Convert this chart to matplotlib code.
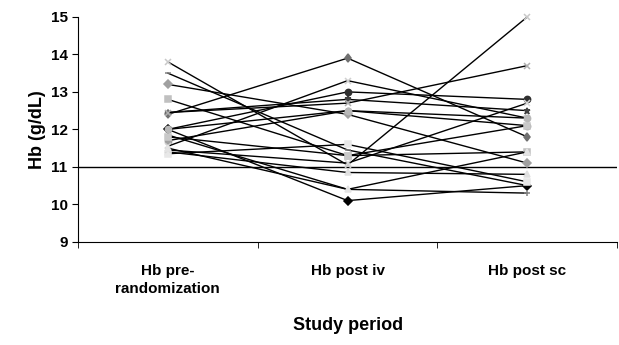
import numpy as np
import matplotlib.pyplot as plt

plt.rcParams['font.family'] = ['Liberation Sans', 'DejaVu Sans']
plt.rcParams['font.weight'] = 'bold'

periods = ["Hb pre-\nrandomization", "Hb post iv", "Hb post sc"]

# Hb (g/dL) per patient: pre-randomization, post iv, post sc
pt01 = [13.8, 11.05, 15.0]
pt02 = [13.5, 11.45, 10.5]
pt03 = [13.2, 12.4, 11.1]
pt04 = [12.8, 11.3, 11.4]
pt05 = [12.45, 12.8, 12.5]
pt06 = [12.4, 13.9, 11.8]
pt07 = [12.0, 13.0, 12.8]
pt08 = [12.0, 10.1, 10.5]
pt09 = [11.85, 10.4, 10.3]
pt10 = [11.7, 12.5, 12.1]
pt11 = [11.55, 13.3, 12.3]
pt12 = [11.4, 10.85, 10.8]
pt13 = [11.35, 11.6, 10.6]
pt14 = [12.45, 12.7, 13.7]
pt15 = [11.8, 11.3, 12.1]
pt16 = [11.45, 11.1, 12.7]
pt17 = [12.0, 12.5, 12.3]
pt18 = [11.5, 10.4, 11.4]

patients = [pt01, pt02, pt03, pt04, pt05, pt06, pt07, pt08, pt09,
            pt10, pt11, pt12, pt13, pt14, pt15, pt16, pt17, pt18]

markers = ['x', '_', 'D', 's', '*', 'd', 'o', 'D', '+',
           'o', 'x', '^', 's', 'x', 's', 'x', 'o', '^']
mcolors = ['#c8c8c8', '#808080', '#a0a0a0', '#c0c0c0', '#404040', '#707070',
           '#303030', '#000000', '#808080', '#a0a0a0', '#d0d0d0', '#e0e0e0',
           '#e8e8e8', '#b0b0b0', '#c8c8c8', '#d8d8d8', '#b8b8b8', '#e4e4e4']

fig = plt.figure(figsize=(6.19, 3.45), dpi=100)
ax = fig.add_axes([0.126, 0.299, 0.871, 0.652])

x = np.arange(len(periods))
for vals, m, c in zip(patients, markers, mcolors):
    ax.plot(x, vals, color='black', lw=1.0, marker=m, ms=4.5,
            mfc=c, mec=c, mew=1.1, zorder=3, clip_on=False)

ax.axhline(11, color='black', lw=1.0, zorder=2)

ax.set_xlim(-0.5, 2.5)
ax.set_ylim(9, 15)
ax.set_yticks(range(9, 16))
ax.set_xticks(x)
ax.set_xticklabels(periods, fontsize=11, fontweight='bold', linespacing=1.4)
ax.set_xticks([-0.5, 0.5, 1.5, 2.5], minor=True)
ax.tick_params(axis='x', which='major', length=0, pad=16)
ax.tick_params(axis='x', which='minor', length=4, direction='out')
ax.tick_params(axis='y', length=4, direction='out', labelsize=11)
for lab in ax.get_yticklabels():
    lab.set_fontweight('bold')

for s in ['top', 'right']:
    ax.spines[s].set_visible(False)
ax.spines['left'].set_linewidth(0.8)
ax.spines['bottom'].set_linewidth(0.8)

ax.set_ylabel("Hb (g/dL)", fontsize=13, fontweight='bold', labelpad=3)
ax.set_xlabel("Study period", fontsize=13, fontweight='bold', labelpad=15)

fig.savefig("out.png", dpi=100)
